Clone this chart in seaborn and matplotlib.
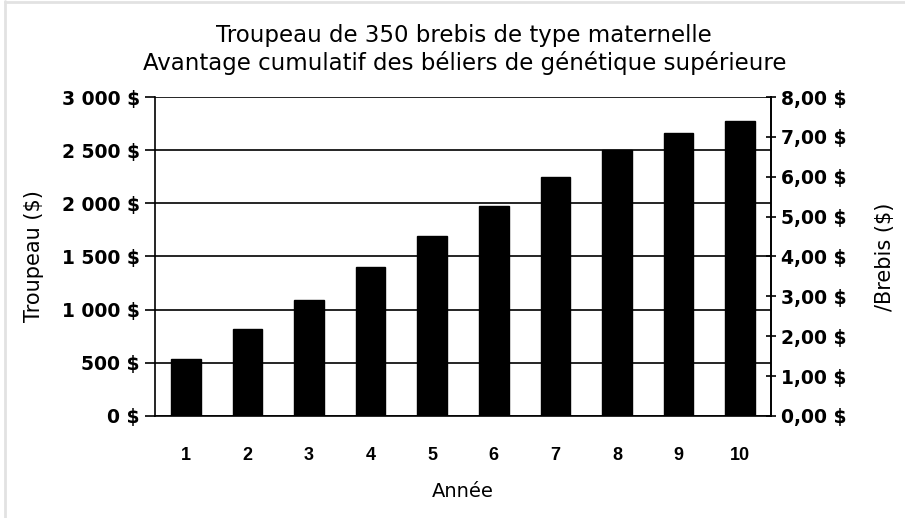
import matplotlib
matplotlib.use("Agg")
import matplotlib.pyplot as plt
import seaborn as sns
import pandas as pd
from matplotlib.ticker import FixedLocator, FuncFormatter
from matplotlib.lines import Line2D

# Données
annees = [1, 2, 3, 4, 5, 6, 7, 8, 9, 10]
troupeau = [540, 815, 1092, 1399, 1689, 1973, 2250, 2500, 2663, 2779]
ticks_gauche = [0, 500, 1000, 1500, 2000, 2500, 3000]
ticks_droite = [0, 1, 2, 3, 4, 5, 6, 7, 8]

titre = "Troupeau de 350 brebis de type maternelle\nAvantage cumulatif des béliers de génétique supérieure"

sns.set_style("white")
plt.rcParams['font.family'] = ['DejaVu Sans']
plt.rcParams['text.color'] = 'black'
plt.rcParams['axes.labelcolor'] = 'black'
plt.rcParams['xtick.color'] = 'black'
plt.rcParams['ytick.color'] = 'black'

df = pd.DataFrame({'annee': annees, 'valeur': troupeau})

fig = plt.figure(figsize=(9.05, 5.18), dpi=100)
ax = fig.add_axes([0.1713, 0.197, 0.852 - 0.1713, 0.8127 - 0.197])

sns.barplot(data=df, x='annee', y='valeur', color='black', width=0.48,
            edgecolor='black', saturation=1, ax=ax, zorder=3)

ax.set_xlim(-0.5, len(annees) - 0.5)
ax.set_ylim(0, 3000)

# grille horizontale
ax.yaxis.set_major_locator(FixedLocator(ticks_gauche))
ax.grid(axis='y', color='black', linewidth=1.2, zorder=0)
ax.set_axisbelow(True)

def fmt_gauche(v, pos):
    s = f"{int(v):,}".replace(",", " ")
    return f"{s} $"

ax.yaxis.set_major_formatter(FuncFormatter(fmt_gauche))
ax.tick_params(axis='y', direction='out', length=7, width=1.2,
               labelsize=13.5, pad=4)
for lab in ax.get_yticklabels():
    lab.set_fontweight('bold')

# ticks x aux frontières des catégories
ax.xaxis.set_minor_locator(FixedLocator([i - 0.5 for i in range(len(annees) + 1)]))
ax.tick_params(axis='x', which='major', length=0, pad=22, labelsize=13)
ax.tick_params(axis='x', which='minor', direction='out', length=6, width=1.2)
for lab in ax.get_xticklabels():
    lab.set_fontweight('bold')
    lab.set_family(['Liberation Sans Narrow', 'Liberation Sans'])

for side in ['left', 'bottom', 'right']:
    ax.spines[side].set_visible(True)
    ax.spines[side].set_color('black')
    ax.spines[side].set_linewidth(1.2)
ax.spines['top'].set_visible(False)

ax.set_xlabel('Année', fontsize=14, labelpad=13)
ax.set_ylabel('Troupeau ($)', fontsize=15, labelpad=13)

# axe secondaire par brebis
ax2 = ax.twinx()
ax2.set_ylim(0, 8)
ax2.yaxis.set_major_locator(FixedLocator(ticks_droite))
ax2.yaxis.set_major_formatter(FuncFormatter(lambda v, p: f"{v:.2f}".replace('.', ',') + " $"))
ax2.tick_params(axis='y', direction='inout', length=7, width=1.2,
                labelsize=13.5, pad=4)
for lab in ax2.get_yticklabels():
    lab.set_fontweight('bold')
for s in ax2.spines.values():
    s.set_visible(False)
ax2.spines['right'].set_visible(True)
ax2.spines['right'].set_color('black')
ax2.spines['right'].set_linewidth(1.2)
ax2.set_ylabel('/Brebis ($)', fontsize=15, labelpad=20)
ax2.grid(False)

fig.text(0.513, 0.905, titre, ha='center', va='center', fontsize=16.5, linespacing=1.2)

# bordure grise (gauche et haut)
fig.add_artist(Line2D([0.006, 0.006], [0, 0.998], transform=fig.transFigure,
                      color='#e2e2e2', linewidth=2))
fig.add_artist(Line2D([0.006, 1], [0.997, 0.997], transform=fig.transFigure,
                      color='#e2e2e2', linewidth=2))

fig.savefig('out.png', dpi=100, facecolor='white')
